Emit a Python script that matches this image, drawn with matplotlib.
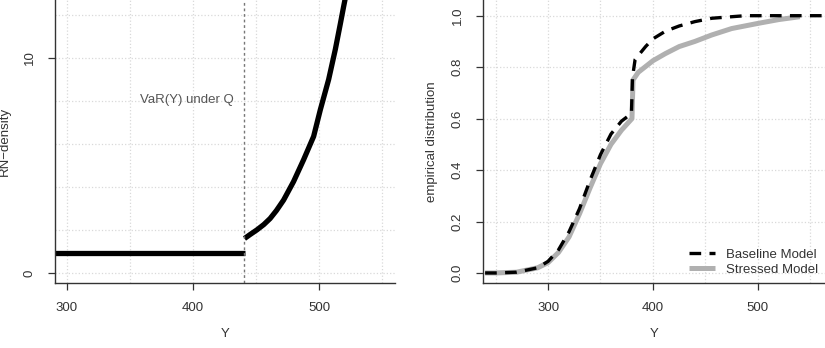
import numpy as np
import matplotlib
matplotlib.use("Agg")
import matplotlib.pyplot as plt

plt.rcParams['font.family'] = ['Liberation Sans', 'DejaVu Sans']

# left panel: RN-density against Y
flat_x = [285.0, 441.0]
flat_y = [0.93, 0.93]
tail_x = [440.7, 445.0, 450.5, 456.0, 461.0, 466.0, 471.7, 479.6, 487.5, 495.5, 500.8, 507.4, 512.7, 516.7, 519.3, 522.0]
tail_y = [1.6, 1.78, 2.0, 2.25, 2.53, 2.9, 3.39, 4.25, 5.26, 6.35, 7.59, 9.0, 10.4, 11.6, 12.4, 13.2]
var_q = 440.5

# right panel: empirical distributions
base_x = [240, 250, 270, 290, 300, 310, 320, 330, 340, 350, 360, 370, 379.5, 380.5, 383, 393, 400, 412, 425, 440, 456, 475, 488, 570]
base_y = [0.0, 0.0, 0.003, 0.02, 0.045, 0.09, 0.16, 0.25, 0.36, 0.46, 0.54, 0.59, 0.62, 0.76, 0.83, 0.88, 0.91, 0.94, 0.96, 0.977, 0.99, 0.996, 1.0, 1.0]
stress_x = [240, 250, 270, 290, 300, 310, 320, 330, 340, 350, 360, 370, 380, 381, 386, 400, 412, 425, 440, 456, 475, 500, 520, 540]
stress_y = [0.0, 0.0, 0.003, 0.02, 0.04, 0.08, 0.14, 0.23, 0.33, 0.425, 0.5, 0.555, 0.6, 0.75, 0.78, 0.825, 0.853, 0.88, 0.9, 0.925, 0.95, 0.97, 0.985, 0.996]

AX_COL = '#333333'
GRID_COL = '#d9d9d9'
FS = 9.5


def r_style(ax):
    """base R look: L-shaped box, outward ticks, rotated y labels"""
    for s in ['top', 'right']:
        ax.spines[s].set_visible(False)
    for s in ['left', 'bottom']:
        ax.spines[s].set_color(AX_COL)
        ax.spines[s].set_linewidth(1.0)
    ax.tick_params(axis='both', direction='out', length=5, width=0.9, color=AX_COL,
                   labelcolor=AX_COL, labelsize=FS, pad=9)
    for lab in ax.get_yticklabels():
        lab.set_rotation(90)
        lab.set_va('center')


def grid(ax, xs, ys):
    for gx in xs:
        ax.axvline(gx, color=GRID_COL, linestyle=':', linewidth=0.9, zorder=0)
    for gy in ys:
        ax.axhline(gy, color=GRID_COL, linestyle=':', linewidth=0.9, zorder=0)


def main():
    fig = plt.figure(figsize=(8.25, 3.48), dpi=100)

    ax1 = fig.add_axes([55 / 825, 1 - 283 / 348, 340 / 825, 283 / 348])
    grid(ax1, range(300, 551, 50), range(0, 13, 2))
    ax1.plot(flat_x, flat_y, color='black', linewidth=3.8, solid_capstyle='butt')
    ax1.plot(tail_x, tail_y, color='black', linewidth=3.8, solid_capstyle='butt')
    ax1.axvline(var_q, color='#777777', linestyle=(0, (2, 2)), linewidth=1.0)
    ax1.text(var_q - 8, 8.05, 'VaR(Y) under Q', color='#555555', fontsize=FS,
             ha='right', va='center')
    ax1.set_xlim(290.5, 560)
    ax1.set_ylim(-0.47, 12.7)
    ax1.set_xticks([300, 400, 500])
    ax1.set_yticks([0, 10])
    ax1.set_xlabel('Y', color=AX_COL, fontsize=FS, labelpad=10)
    ax1.set_ylabel('RN\u2212density', color=AX_COL, fontsize=FS, labelpad=9)
    r_style(ax1)

    ax2 = fig.add_axes([483 / 825, 1 - 283 / 348, 342 / 825, 283 / 348])
    grid(ax2, range(250, 551, 50), np.arange(0, 1.01, 0.2))
    ax2.plot(stress_x, stress_y, color='#b0b0b0', linewidth=3.6, label='Stressed Model',
             solid_capstyle='butt')
    ax2.plot(base_x, base_y, color='black', linewidth=2.4, dashes=(3.5, 2.5),
             label='Baseline Model')
    ax2.set_xlim(238, 564)
    ax2.set_ylim(-0.039, 1.061)
    ax2.set_xticks([300, 400, 500])
    ax2.set_yticks([0.0, 0.2, 0.4, 0.6, 0.8, 1.0])
    ax2.set_yticklabels(['0.0', '0.2', '0.4', '0.6', '0.8', '1.0'])
    ax2.set_xlabel('Y', color=AX_COL, fontsize=FS, labelpad=10)
    ax2.set_ylabel('empirical distribution', color=AX_COL, fontsize=FS, labelpad=10)
    r_style(ax2)
    h, l = ax2.get_legend_handles_labels()
    ax2.legend(h[::-1], l[::-1], loc='lower right', frameon=False, fontsize=FS,
               handlelength=2.0, handletextpad=0.8, labelspacing=0.2,
               borderaxespad=0.15, labelcolor=AX_COL)

    fig.savefig('out.png', dpi=100)


if __name__ == "__main__":
    main()
